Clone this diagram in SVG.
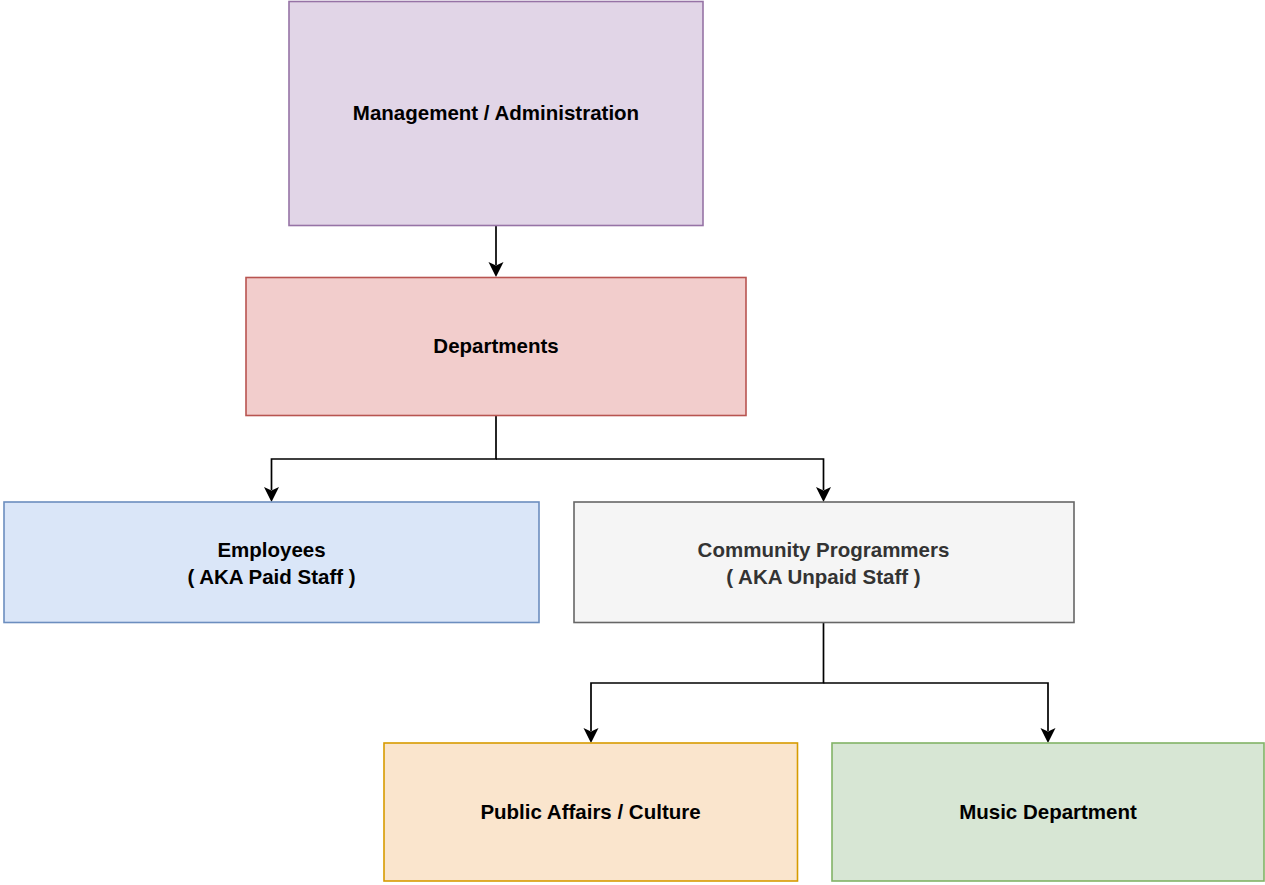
<svg xmlns="http://www.w3.org/2000/svg" width="1265" height="885" viewBox="0 0 1265 885">
<style>
  .box { stroke-width: 1.6; }
  .lbl { font-family: "Liberation Sans", Arial, Helvetica, sans-serif; font-weight: bold; font-size: 20.5px; text-anchor: middle; fill: #000000; }
  .conn { fill: none; stroke: #000000; stroke-width: 1.7; }
</style>
<defs>
  <marker id="arr" markerUnits="userSpaceOnUse" markerWidth="16" markerHeight="16" viewBox="-8 -16 16 17" refX="0" refY="0" orient="auto-start-reverse" overflow="visible">
    <path d="M0,0 L-7.5,-15 L0,-11.5 L7.5,-15 Z" fill="#000000" transform="rotate(-90)"/>
  </marker>
</defs>
<rect width="1265" height="885" fill="#ffffff"/>
<g id="connectors">
  <path class="conn" d="M496,225 L496,265"/>
  <path class="conn" d="M496,415 L496,459 L271.5,459 L271.5,490"/>
  <path class="conn" d="M496,459 L823.5,459 L823.5,490"/>
  <path class="conn" d="M823.5,622 L823.5,683 L591,683 L591,731"/>
  <path class="conn" d="M823.5,683 L1048,683 L1048,731"/>
  <g fill="#000000">
    <path d="M496,277 L488.5,262 L496,265.5 L503.5,262 Z"/>
    <path d="M271.5,502 L264,487 L271.5,490.5 L279,487 Z"/>
    <path d="M823.5,502 L816,487 L823.5,490.5 L831,487 Z"/>
    <path d="M591,743 L583.5,728 L591,731.5 L598.5,728 Z"/>
    <path d="M1048,743 L1040.5,728 L1048,731.5 L1055.5,728 Z"/>
  </g>
</g>
<g id="node-management">
  <rect class="box" x="289" y="1.5" width="414" height="224" fill="#e1d5e7" stroke="#9673a6"/>
  <text class="lbl" x="496" y="119.5">Management / Administration</text>
</g>
<g id="node-departments">
  <rect class="box" x="246" y="277.5" width="500" height="138" fill="#f2cdcc" stroke="#b85450"/>
  <text class="lbl" x="496" y="353">Departments</text>
</g>
<g id="node-employees">
  <rect class="box" x="4" y="502" width="535" height="120.5" fill="#dae6f8" stroke="#6c8ebf"/>
  <text class="lbl" x="271.5" y="557">Employees</text>
  <text class="lbl" x="271.5" y="584">( AKA Paid Staff )</text>
</g>
<g id="node-community">
  <rect class="box" x="574" y="502" width="500" height="120.5" fill="#f5f5f5" stroke="#666666"/>
  <text class="lbl" x="823.5" y="557" fill="#333333" style="fill:#333333">Community Programmers</text>
  <text class="lbl" x="823.5" y="584" style="fill:#333333">( AKA Unpaid Staff )</text>
</g>
<g id="node-public-affairs">
  <rect class="box" x="384" y="743" width="413.5" height="138" fill="#fae5cd" stroke="#d79b00"/>
  <text class="lbl" x="590.5" y="819">Public Affairs / Culture</text>
</g>
<g id="node-music">
  <rect class="box" x="832" y="743" width="432" height="138" fill="#d7e6d4" stroke="#82b366"/>
  <text class="lbl" x="1048" y="819">Music Department</text>
</g>
</svg>
